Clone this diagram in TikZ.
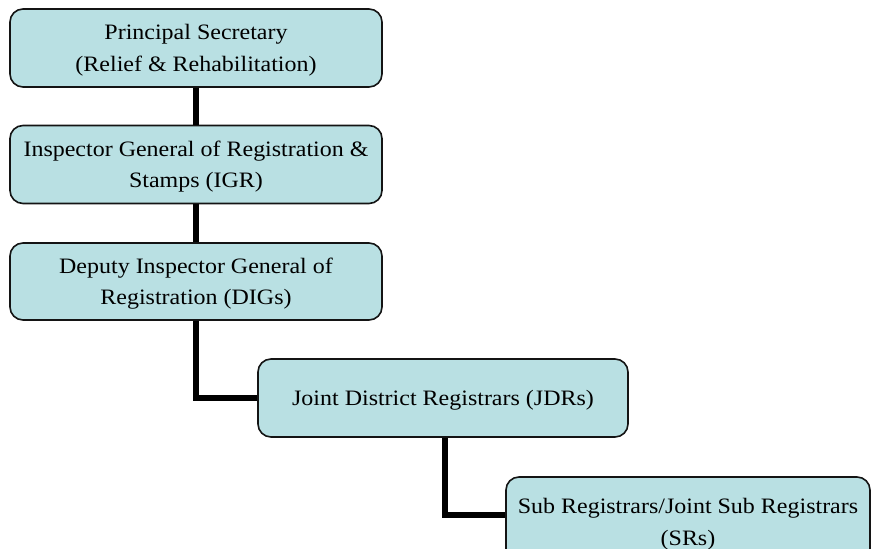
\documentclass[tikz,border=0pt]{standalone}
\usepackage{fontspec}
\setmainfont[FakeStretch=1.09]{Liberation Serif}
\definecolor{boxfill}{RGB}{185,224,227}
\definecolor{boxline}{RGB}{20,20,20}
\begin{document}
\begin{tikzpicture}[x=1pt,y=-1pt,
  orgbox/.style={draw=boxline, line width=1.6pt, fill=boxfill, rounded corners=13pt,
    align=center, inner sep=0pt, text depth=0pt,
    font=\fontsize{22}{31.5}\selectfont},
  link/.style={line width=5.6pt, draw=black}]
\clip (0,0) rectangle (871,549);
\fill[white] (0,0) rectangle (871,549);
\node[orgbox, minimum width=372pt, minimum height=78pt] (ps) at (196,48)
  {Principal Secretary\\(Relief \& Rehabilitation)};
\node[orgbox, minimum width=372pt, minimum height=78pt] (igr) at (196,164.5)
  {Inspector General of Registration \&\\Stamps (IGR)};
\node[orgbox, minimum width=372pt, minimum height=77pt] (dig) at (196,281.5)
  {Deputy Inspector General of\\Registration (DIGs)};
\node[orgbox, minimum width=370pt, minimum height=78pt] (jdr) at (443,398)
  {Joint District Registrars (JDRs)};
\node[orgbox, minimum width=364pt, minimum height=90pt] (sr) at (688,522)
  {Sub Registrars/Joint Sub Registrars\\(SRs)};
\draw[link] (ps.south) -- (igr.north);
\draw[link] (igr.south) -- (dig.north);
\draw[link] (dig.south) |- (jdr.west);
\draw[link] ([xshift=2pt]jdr.south) |- ([yshift=7pt]sr.west);
\end{tikzpicture}
\end{document}
